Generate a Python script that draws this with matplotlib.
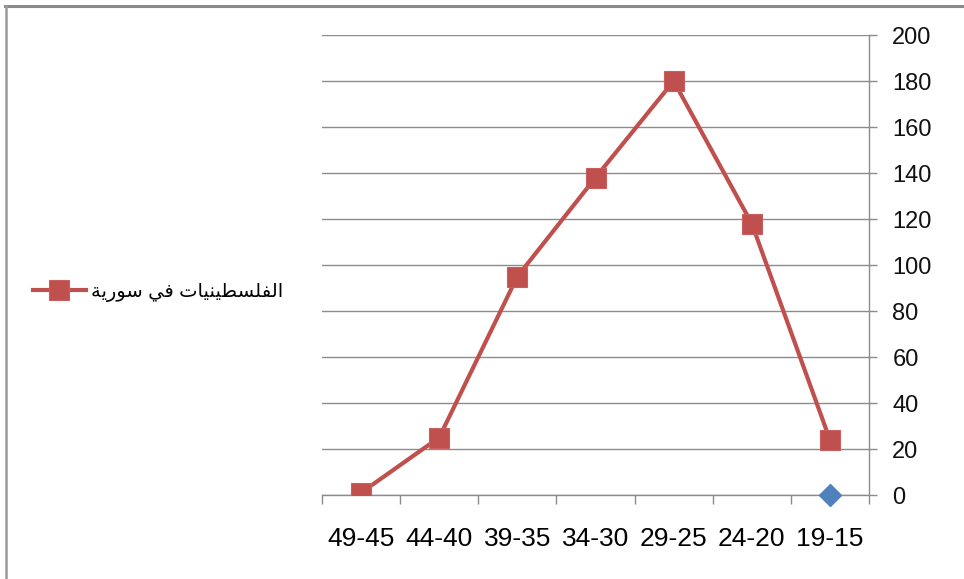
import matplotlib
matplotlib.use("Agg")
import matplotlib.pyplot as plt
from matplotlib.lines import Line2D
from matplotlib.ticker import FixedLocator, NullFormatter

# Age groups (shown right-to-left, oldest first) and counts
age_groups = ["49-45", "44-40", "39-35", "34-30", "29-25", "24-20", "19-15"]
counts_syria = [1, 25, 95, 138, 180, 118, 24]
second_series_cat = ["19-15"]
second_series_vals = [0]
series_label = "الفلسطينيات في سورية"
y_ticks = [0, 20, 40, 60, 80, 100, 120, 140, 160, 180, 200]

# --- minimal Arabic shaping (presentation forms) so glyphs join correctly ---
FORMS = {
    # letter: (isolated, final, initial, medial); None for right-joining letters
    "\u0627": ("\uFE8D", "\uFE8E", None, None),
    "\u0644": ("\uFEDD", "\uFEDE", "\uFEDF", "\uFEE0"),
    "\u0641": ("\uFED1", "\uFED2", "\uFED3", "\uFED4"),
    "\u0633": ("\uFEB1", "\uFEB2", "\uFEB3", "\uFEB4"),
    "\u0637": ("\uFEC1", "\uFEC2", "\uFEC3", "\uFEC4"),
    "\u064A": ("\uFEF1", "\uFEF2", "\uFEF3", "\uFEF4"),
    "\u0646": ("\uFEE5", "\uFEE6", "\uFEE7", "\uFEE8"),
    "\u062A": ("\uFE95", "\uFE96", "\uFE97", "\uFE98"),
    "\u0648": ("\uFEED", "\uFEEE", None, None),
    "\u0631": ("\uFEAD", "\uFEAE", None, None),
    "\u0629": ("\uFE93", "\uFE94", None, None),
}


def shape_arabic(text):
    chars = list(text)
    out = []
    for i, c in enumerate(chars):
        if c not in FORMS:
            out.append(c)
            continue
        iso, fin, ini, med = FORMS[c]
        prev = chars[i - 1] if i > 0 else None
        nxt = chars[i + 1] if i < len(chars) - 1 else None
        join_prev = prev in FORMS and FORMS[prev][2] is not None
        join_next = ini is not None and nxt in FORMS
        if join_prev and join_next:
            out.append(med)
        elif join_prev:
            out.append(fin)
        elif join_next:
            out.append(ini)
        else:
            out.append(iso)
    return "".join(reversed(out))


plt.rcParams["font.family"] = ["Liberation Sans", "DejaVu Sans"]

W, H = 964, 579
fig = plt.figure(figsize=(W / 100, H / 100), dpi=100)
ax = fig.add_axes([322 / W, 1 - 495 / H, (869 - 322) / W, (495 - 35) / H])

x = list(range(len(age_groups)))
idx = {g: i for i, g in enumerate(age_groups)}

red = "#C0504D"
blue = "#4F81BD"
grid_gray = "#8C8C8C"

ax.plot(x, counts_syria, color=red, lw=3.0, marker="s", ms=15,
        mfc=red, mec="#C9605D", mew=0.8, label=shape_arabic(series_label),
        zorder=4, solid_joinstyle="miter")
ax.plot([idx[c] for c in second_series_cat], second_series_vals,
        ls="none", marker="D", ms=10.8, mfc=blue, mec=blue, zorder=5,
        clip_on=False)

ax.set_xlim(-0.5, len(age_groups) - 0.5)
ax.set_ylim(0, 200)

# y axis on the right
ax.yaxis.tick_right()
ax.set_yticks(y_ticks)
ax.tick_params(axis="y", which="major", direction="out", length=5.8,
               width=1, color=grid_gray, pad=11, labelsize=17,
               labelcolor="#111111")
ax.yaxis.grid(True, color=grid_gray, lw=1)
ax.set_axisbelow(True)

# x axis: labels at category centres, tick marks at boundaries
ax.set_xticks(x)
ax.set_xticklabels(age_groups)
ax.xaxis.set_minor_locator(FixedLocator([i - 0.5 for i in range(len(age_groups) + 1)]))
ax.xaxis.set_minor_formatter(NullFormatter())
ax.tick_params(axis="x", which="major", length=0, pad=23, labelsize=19,
               labelcolor="#000000")
ax.tick_params(axis="x", which="minor", direction="out", length=6.5,
               width=1, color=grid_gray)

for side in ("left", "top"):
    ax.spines[side].set_visible(False)
for side in ("right", "bottom"):
    ax.spines[side].set_color(grid_gray)
    ax.spines[side].set_linewidth(1)

leg = fig.legend(loc="center left", bbox_to_anchor=(33 / W, 1 - 292 / H),
                 frameon=False, fontsize=14, handlelength=2.7,
                 handletextpad=0.3, borderpad=0, borderaxespad=0)

# outer frame (top and left edges)
fig.add_artist(Line2D([5 / W, 1], [1 - 5.5 / H, 1 - 5.5 / H],
                      transform=fig.transFigure, color="#8A8A8A", lw=2.2))
fig.add_artist(Line2D([6 / W, 6 / W], [0, 1 - 5.5 / H],
                      transform=fig.transFigure, color="#9A9A9A", lw=1.8))

fig.savefig("out.png", dpi=100)
